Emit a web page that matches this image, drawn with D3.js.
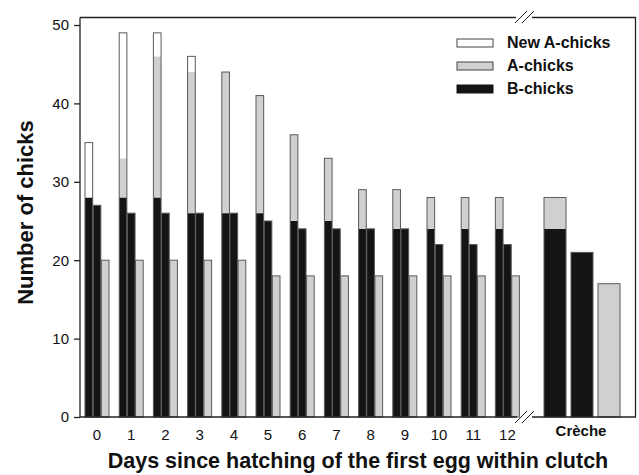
<!DOCTYPE html>
<html><head><meta charset="utf-8">
<script src="https://cdn.jsdelivr.net/npm/d3@7"></script>
<style>body{margin:0;background:#fff}svg{display:block}text{font-family:"Liberation Sans",Arial,sans-serif;fill:#111}</style>
</head><body><svg id="c" width="639" height="475"></svg>
<script>
// ---- data ----
const days = ["0","1","2","3","4","5","6","7","8","9","10","11","12"];
const stackB    = [28,28,28,26,26,26,25,25,24,24,24,24,24];
const stackA    = [0,5,18,18,18,15,11,8,5,5,4,4,4];
const stackNewA = [7,16,3,2,0,0,0,0,0,0,0,0,0];
const secondB   = [27,26,26,26,26,25,24,24,24,24,22,22,22];
const thirdA    = [20,20,20,20,20,18,18,18,18,18,18,18,18];
const crecheLabel = "Crèche";
const crecheStackB = 24, crecheStackA = 4, crecheStackNewA = 0;
const crecheSecondB = 21, crecheThirdA = 17;
const yTicks = [0,10,20,30,40,50];
const legendItems = ["New A-chicks","A-chicks","B-chicks"];

const C = {newA:"#ffffff", A:"#d0d0d0", B:"#141414"};
const svg = d3.select("#c");
const y = d3.scaleLinear().domain([0,50]).range([417,25]);
const x = d3.scaleBand().domain(days).range([80,524.4]).paddingInner(0.298).paddingOuter(0.146);
const sub = d3.scaleBand().domain(["s","b","a"]).range([0,x.bandwidth()]).paddingInner(0.06);
const xc = d3.scaleBand().domain(["s","b","a"]).range([544,620]).paddingInner(0.185);

function stacked(g, x0, w, b, a, n){
  const segs = [[0,b,C.B],[b,b+a,C.A],[b+a,b+a+n,C.newA]];
  segs.forEach(([lo,hi,col])=>{ if(hi>lo) g.append("rect").attr("x",x0).attr("width",w)
     .attr("y",y(hi)).attr("height",y(lo)-y(hi)).attr("fill",col); });
  g.append("rect").attr("x",x0).attr("width",w).attr("y",y(b+a+n)).attr("height",y(0)-y(b+a+n))
   .attr("fill","none").attr("stroke","#5a5a5a").attr("stroke-width",1);
}
function single(g, x0, w, v, col){
  g.append("rect").attr("x",x0).attr("width",w).attr("y",y(v)).attr("height",y(0)-y(v))
   .attr("fill",col).attr("stroke","#5a5a5a").attr("stroke-width",1);
}
const g = svg.append("g");
days.forEach((d,i)=>{
  const x0 = x(d);
  stacked(g, x0+sub("s"), sub.bandwidth(), stackB[i], stackA[i], stackNewA[i]);
  single(g, x0+sub("b"), sub.bandwidth(), secondB[i], C.B);
  single(g, x0+sub("a"), sub.bandwidth(), thirdA[i], C.A);
});
stacked(g, xc("s"), xc.bandwidth(), crecheStackB, crecheStackA, crecheStackNewA);
single(g, xc("b"), xc.bandwidth(), crecheSecondB, C.B);
single(g, xc("a"), xc.bandwidth(), crecheThirdA, C.A);

// frame
const L = "#222";
const line = (x1,y1,x2,y2,w=1.3)=>svg.append("line").attr("x1",x1).attr("y1",y1).attr("x2",x2).attr("y2",y2).attr("stroke",L).attr("stroke-width",w);
line(80,17.5,516,17.5); line(532,17.5,636,17.5);
line(635.5,17.5,635.5,417);
line(80,417,517,417); line(532,417,636,417);
line(515,23,527,11,1); line(522,23,534,11,1);
line(515,423,527,411,1); line(522,423,534,411,1);

// y axis
const ya = svg.append("g").attr("transform","translate(80,0)")
  .call(d3.axisLeft(y).tickValues(yTicks).tickSize(6).tickPadding(5));
ya.select(".domain").attr("stroke",L).attr("stroke-width",1.3).attr("d","M0,17.5V417");
ya.selectAll(".tick line").attr("stroke",L).attr("stroke-width",1.3);
ya.selectAll(".tick text").style("font-size","15px").attr("fill","#111");

// x axis labels
const xa = svg.append("g").attr("transform","translate(0,417)")
  .call(d3.axisBottom(x).tickSize(0).tickPadding(12));
xa.select(".domain").remove();
xa.selectAll(".tick text").style("font-size","15px").attr("fill","#111");
svg.append("text").attr("x",581).attr("y",436).attr("text-anchor","middle")
  .style("font-size","15px").style("font-weight","bold").text(crecheLabel);

// titles
svg.append("text").attr("x",358).attr("y",468).attr("text-anchor","middle")
  .style("font-size","21.5px").style("font-weight","bold")
  .text("Days since hatching of the first egg within clutch");
svg.append("text").attr("transform","translate(33,212.5) rotate(-90)").attr("text-anchor","middle")
  .style("font-size","22px").style("font-weight","bold").text("Number of chicks");

// legend
const lg = svg.append("g");
const lcol = [C.newA, C.A, C.B];
legendItems.forEach((t,i)=>{
  const by = 48 + i*23;
  lg.append("rect").attr("x",457).attr("y",by-9).attr("width",36).attr("height",8)
    .attr("fill",lcol[i]).attr("stroke", i==2?"#141414":"#444").attr("stroke-width",1);
  lg.append("text").attr("x",507).attr("y",by).style("font-size","16px").style("font-weight","bold").text(t);
});
</script></body></html>
